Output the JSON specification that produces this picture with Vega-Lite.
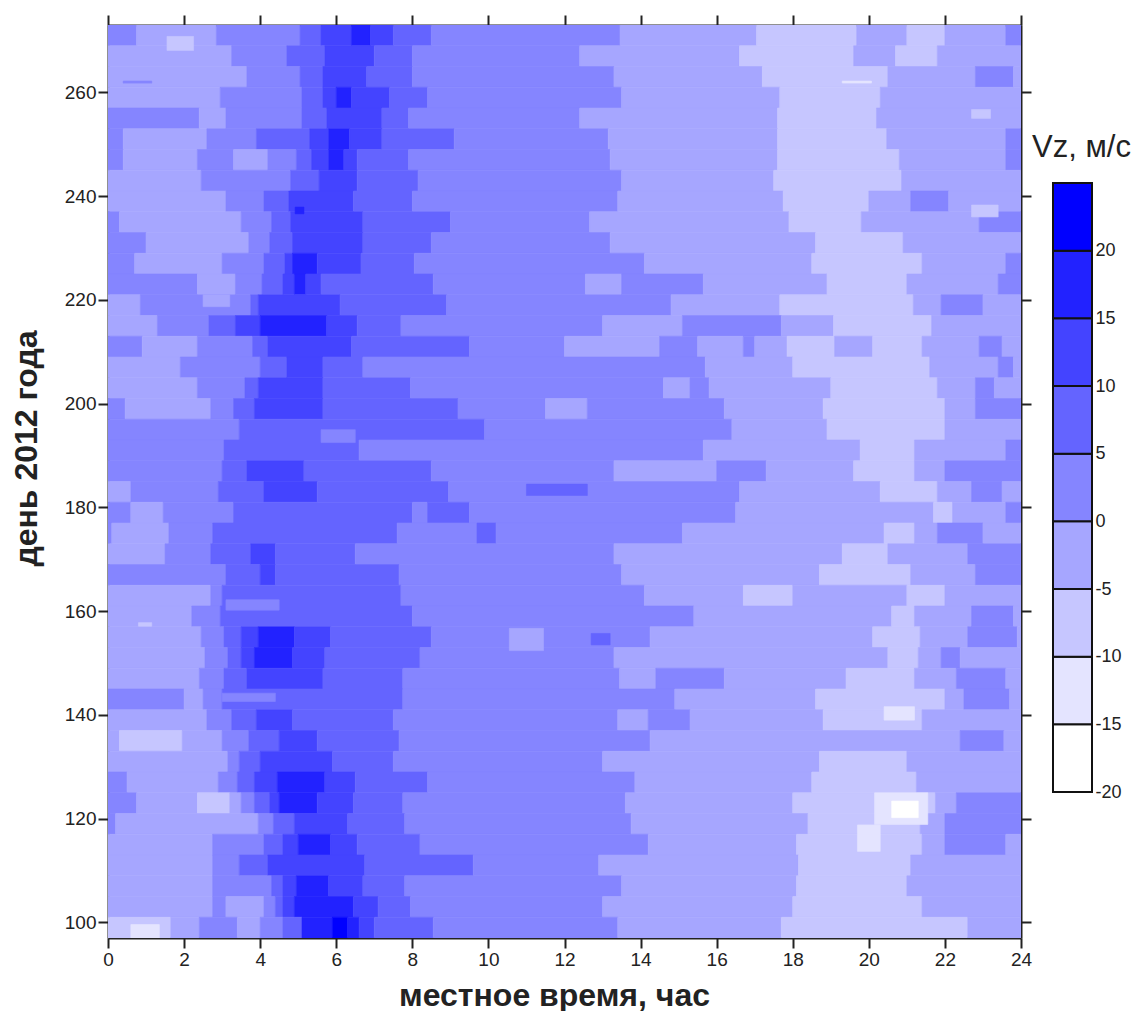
{"$schema":"https://vega.github.io/schema/vega-lite/v6.json","background":"white","padding":{"left":10,"top":14,"right":0,"bottom":0},"config":{"view":{"stroke":null},"font":"Liberation Sans"},"datasets":{"legend":[{"lo":-20,"hi":-15,"v":-17},{"lo":-15,"hi":-10,"v":-12},{"lo":-10,"hi":-5,"v":-7},{"lo":-5,"hi":0,"v":-2},{"lo":0,"hi":5,"v":3},{"lo":5,"hi":10,"v":8},{"lo":10,"hi":15,"v":13},{"lo":15,"hi":20,"v":18},{"lo":20,"hi":25,"v":23}],"cells":[
{"t0":0,"t1":0.75,"d0":269,"d1":273,"v":3},{"t0":0.75,"t1":2.85,"d0":269,"d1":273,"v":-2},{"t0":2.85,"t1":5.05,"d0":269,"d1":273,"v":3},{"t0":5.05,"t1":5.6,"d0":269,"d1":273,"v":8},{"t0":5.6,"t1":6.4,"d0":269,"d1":273,"v":13},{"t0":6.4,"t1":6.9,"d0":269,"d1":273,"v":18},{"t0":6.9,"t1":7.5,"d0":269,"d1":273,"v":13},{"t0":7.5,"t1":8.5,"d0":269,"d1":273,"v":8},{"t0":8.5,"t1":13.46,"d0":269,"d1":273,"v":3},{"t0":13.46,"t1":17.05,"d0":269,"d1":273,"v":-2},{"t0":17.05,"t1":19.68,"d0":269,"d1":273,"v":-7},{"t0":19.68,"t1":21,"d0":269,"d1":273,"v":-2},{"t0":21,"t1":22,"d0":269,"d1":273,"v":-7},{"t0":22,"t1":23.6,"d0":269,"d1":273,"v":-2},{"t0":23.6,"t1":24,"d0":269,"d1":273,"v":3},
{"t0":0,"t1":3.25,"d0":265,"d1":269,"v":-2},{"t0":3.25,"t1":4.7,"d0":265,"d1":269,"v":3},{"t0":4.7,"t1":5.7,"d0":265,"d1":269,"v":8},{"t0":5.7,"t1":7,"d0":265,"d1":269,"v":13},{"t0":7,"t1":8,"d0":265,"d1":269,"v":8},{"t0":8,"t1":12.4,"d0":265,"d1":269,"v":3},{"t0":12.4,"t1":16.6,"d0":265,"d1":269,"v":-2},{"t0":16.6,"t1":19.6,"d0":265,"d1":269,"v":-7},{"t0":19.6,"t1":20.7,"d0":265,"d1":269,"v":-2},{"t0":20.7,"t1":21.8,"d0":265,"d1":269,"v":-7},{"t0":21.8,"t1":24,"d0":265,"d1":269,"v":-2},
{"t0":0,"t1":3.65,"d0":261,"d1":265,"v":-2},{"t0":3.65,"t1":5.05,"d0":261,"d1":265,"v":3},{"t0":5.05,"t1":5.65,"d0":261,"d1":265,"v":8},{"t0":5.65,"t1":6.8,"d0":261,"d1":265,"v":13},{"t0":6.8,"t1":8,"d0":261,"d1":265,"v":8},{"t0":8,"t1":13.3,"d0":261,"d1":265,"v":3},{"t0":13.3,"t1":17.2,"d0":261,"d1":265,"v":-2},{"t0":17.2,"t1":20.5,"d0":261,"d1":265,"v":-7},{"t0":20.5,"t1":22.8,"d0":261,"d1":265,"v":-2},{"t0":22.8,"t1":23.8,"d0":261,"d1":265,"v":3},{"t0":23.8,"t1":24,"d0":261,"d1":265,"v":-2},
{"t0":0,"t1":2.95,"d0":257,"d1":261,"v":-2},{"t0":2.95,"t1":5.1,"d0":257,"d1":261,"v":3},{"t0":5.1,"t1":5.65,"d0":257,"d1":261,"v":8},{"t0":5.65,"t1":6,"d0":257,"d1":261,"v":13},{"t0":6,"t1":6.4,"d0":257,"d1":261,"v":18},{"t0":6.4,"t1":7.4,"d0":257,"d1":261,"v":13},{"t0":7.4,"t1":8.4,"d0":257,"d1":261,"v":8},{"t0":8.4,"t1":13.5,"d0":257,"d1":261,"v":3},{"t0":13.5,"t1":17.66,"d0":257,"d1":261,"v":-2},{"t0":17.66,"t1":20.3,"d0":257,"d1":261,"v":-7},{"t0":20.3,"t1":24,"d0":257,"d1":261,"v":-2},
{"t0":0,"t1":2.4,"d0":253,"d1":257,"v":3},{"t0":2.4,"t1":3.1,"d0":253,"d1":257,"v":-2},{"t0":3.1,"t1":5.1,"d0":253,"d1":257,"v":3},{"t0":5.1,"t1":5.75,"d0":253,"d1":257,"v":8},{"t0":5.75,"t1":7.2,"d0":253,"d1":257,"v":13},{"t0":7.2,"t1":7.9,"d0":253,"d1":257,"v":8},{"t0":7.9,"t1":12.4,"d0":253,"d1":257,"v":3},{"t0":12.4,"t1":17.6,"d0":253,"d1":257,"v":-2},{"t0":17.6,"t1":20.2,"d0":253,"d1":257,"v":-7},{"t0":20.2,"t1":24,"d0":253,"d1":257,"v":-2},
{"t0":0,"t1":0.4,"d0":249,"d1":253,"v":3},{"t0":0.4,"t1":2.6,"d0":249,"d1":253,"v":-2},{"t0":2.6,"t1":3.9,"d0":249,"d1":253,"v":3},{"t0":3.9,"t1":5.3,"d0":249,"d1":253,"v":8},{"t0":5.3,"t1":5.8,"d0":249,"d1":253,"v":13},{"t0":5.8,"t1":6.35,"d0":249,"d1":253,"v":18},{"t0":6.35,"t1":7.2,"d0":249,"d1":253,"v":13},{"t0":7.2,"t1":9.1,"d0":249,"d1":253,"v":8},{"t0":9.1,"t1":13.15,"d0":249,"d1":253,"v":3},{"t0":13.15,"t1":17.6,"d0":249,"d1":253,"v":-2},{"t0":17.6,"t1":20.47,"d0":249,"d1":253,"v":-7},{"t0":20.47,"t1":23.6,"d0":249,"d1":253,"v":-2},{"t0":23.6,"t1":24,"d0":249,"d1":253,"v":3},
{"t0":0,"t1":0.4,"d0":245,"d1":249,"v":3},{"t0":0.4,"t1":2.35,"d0":245,"d1":249,"v":-2},{"t0":2.35,"t1":3.3,"d0":245,"d1":249,"v":3},{"t0":3.3,"t1":4.2,"d0":245,"d1":249,"v":-2},{"t0":4.2,"t1":4.95,"d0":245,"d1":249,"v":3},{"t0":4.95,"t1":5.35,"d0":245,"d1":249,"v":8},{"t0":5.35,"t1":5.8,"d0":245,"d1":249,"v":13},{"t0":5.8,"t1":6.2,"d0":245,"d1":249,"v":18},{"t0":6.2,"t1":6.55,"d0":245,"d1":249,"v":13},{"t0":6.55,"t1":7.9,"d0":245,"d1":249,"v":8},{"t0":7.9,"t1":13.2,"d0":245,"d1":249,"v":3},{"t0":13.2,"t1":17.6,"d0":245,"d1":249,"v":-2},{"t0":17.6,"t1":20.8,"d0":245,"d1":249,"v":-7},{"t0":20.8,"t1":23.6,"d0":245,"d1":249,"v":-2},{"t0":23.6,"t1":24,"d0":245,"d1":249,"v":3},
{"t0":0,"t1":2.45,"d0":241,"d1":245,"v":-2},{"t0":2.45,"t1":4.8,"d0":241,"d1":245,"v":3},{"t0":4.8,"t1":5.55,"d0":241,"d1":245,"v":8},{"t0":5.55,"t1":6.55,"d0":241,"d1":245,"v":13},{"t0":6.55,"t1":8.15,"d0":241,"d1":245,"v":8},{"t0":8.15,"t1":13.5,"d0":241,"d1":245,"v":3},{"t0":13.5,"t1":17.5,"d0":241,"d1":245,"v":-2},{"t0":17.5,"t1":20.86,"d0":241,"d1":245,"v":-7},{"t0":20.86,"t1":24,"d0":241,"d1":245,"v":-2},
{"t0":0,"t1":3.1,"d0":237,"d1":241,"v":-2},{"t0":3.1,"t1":4.1,"d0":237,"d1":241,"v":3},{"t0":4.1,"t1":4.75,"d0":237,"d1":241,"v":8},{"t0":4.75,"t1":6.45,"d0":237,"d1":241,"v":13},{"t0":6.45,"t1":8,"d0":237,"d1":241,"v":8},{"t0":8,"t1":13.4,"d0":237,"d1":241,"v":3},{"t0":13.4,"t1":17.75,"d0":237,"d1":241,"v":-2},{"t0":17.75,"t1":20,"d0":237,"d1":241,"v":-7},{"t0":20,"t1":21.1,"d0":237,"d1":241,"v":-2},{"t0":21.1,"t1":22.1,"d0":237,"d1":241,"v":3},{"t0":22.1,"t1":24,"d0":237,"d1":241,"v":-2},
{"t0":0,"t1":0.3,"d0":233,"d1":237,"v":3},{"t0":0.3,"t1":3.5,"d0":233,"d1":237,"v":-2},{"t0":3.5,"t1":4.3,"d0":233,"d1":237,"v":3},{"t0":4.3,"t1":4.8,"d0":233,"d1":237,"v":8},{"t0":4.8,"t1":6.7,"d0":233,"d1":237,"v":13},{"t0":6.7,"t1":9,"d0":233,"d1":237,"v":8},{"t0":9,"t1":12.66,"d0":233,"d1":237,"v":3},{"t0":12.66,"t1":17.9,"d0":233,"d1":237,"v":-2},{"t0":17.9,"t1":19.8,"d0":233,"d1":237,"v":-7},{"t0":19.8,"t1":22.9,"d0":233,"d1":237,"v":-2},{"t0":22.9,"t1":24,"d0":233,"d1":237,"v":3},
{"t0":0,"t1":1,"d0":229,"d1":233,"v":3},{"t0":1,"t1":3.7,"d0":229,"d1":233,"v":-2},{"t0":3.7,"t1":4.25,"d0":229,"d1":233,"v":3},{"t0":4.25,"t1":4.85,"d0":229,"d1":233,"v":8},{"t0":4.85,"t1":6.7,"d0":229,"d1":233,"v":13},{"t0":6.7,"t1":8.5,"d0":229,"d1":233,"v":8},{"t0":8.5,"t1":13.2,"d0":229,"d1":233,"v":3},{"t0":13.2,"t1":18.6,"d0":229,"d1":233,"v":-2},{"t0":18.6,"t1":20.9,"d0":229,"d1":233,"v":-7},{"t0":20.9,"t1":24,"d0":229,"d1":233,"v":-2},
{"t0":0,"t1":0.7,"d0":225,"d1":229,"v":3},{"t0":0.7,"t1":3,"d0":225,"d1":229,"v":-2},{"t0":3,"t1":4.1,"d0":225,"d1":229,"v":3},{"t0":4.1,"t1":4.65,"d0":225,"d1":229,"v":8},{"t0":4.65,"t1":4.85,"d0":225,"d1":229,"v":13},{"t0":4.85,"t1":5.5,"d0":225,"d1":229,"v":18},{"t0":5.5,"t1":6.65,"d0":225,"d1":229,"v":13},{"t0":6.65,"t1":8.05,"d0":225,"d1":229,"v":8},{"t0":8.05,"t1":14.1,"d0":225,"d1":229,"v":3},{"t0":14.1,"t1":18.5,"d0":225,"d1":229,"v":-2},{"t0":18.5,"t1":21.4,"d0":225,"d1":229,"v":-7},{"t0":21.4,"t1":23.6,"d0":225,"d1":229,"v":-2},{"t0":23.6,"t1":24,"d0":225,"d1":229,"v":3},
{"t0":0,"t1":2.35,"d0":221,"d1":225,"v":3},{"t0":2.35,"t1":3.35,"d0":221,"d1":225,"v":-2},{"t0":3.35,"t1":4.05,"d0":221,"d1":225,"v":3},{"t0":4.05,"t1":4.6,"d0":221,"d1":225,"v":8},{"t0":4.6,"t1":4.9,"d0":221,"d1":225,"v":13},{"t0":4.9,"t1":5.2,"d0":221,"d1":225,"v":18},{"t0":5.2,"t1":5.6,"d0":221,"d1":225,"v":13},{"t0":5.6,"t1":8.55,"d0":221,"d1":225,"v":8},{"t0":8.55,"t1":12.55,"d0":221,"d1":225,"v":3},{"t0":12.55,"t1":13.5,"d0":221,"d1":225,"v":-2},{"t0":13.5,"t1":15.65,"d0":221,"d1":225,"v":3},{"t0":15.65,"t1":18.9,"d0":221,"d1":225,"v":-2},{"t0":18.9,"t1":21,"d0":221,"d1":225,"v":-7},{"t0":21,"t1":23.4,"d0":221,"d1":225,"v":-2},{"t0":23.4,"t1":24,"d0":221,"d1":225,"v":3},
{"t0":0,"t1":0.85,"d0":217,"d1":221,"v":-2},{"t0":0.85,"t1":3.75,"d0":217,"d1":221,"v":3},{"t0":3.75,"t1":3.95,"d0":217,"d1":221,"v":8},{"t0":3.95,"t1":6.1,"d0":217,"d1":221,"v":13},{"t0":6.1,"t1":8.9,"d0":217,"d1":221,"v":8},{"t0":8.9,"t1":14.8,"d0":217,"d1":221,"v":3},{"t0":14.8,"t1":17.66,"d0":217,"d1":221,"v":-2},{"t0":17.66,"t1":21.17,"d0":217,"d1":221,"v":-7},{"t0":21.17,"t1":21.9,"d0":217,"d1":221,"v":-2},{"t0":21.9,"t1":23,"d0":217,"d1":221,"v":3},{"t0":23,"t1":24,"d0":217,"d1":221,"v":-2},
{"t0":0,"t1":1.3,"d0":213,"d1":217,"v":-2},{"t0":1.3,"t1":2.65,"d0":213,"d1":217,"v":3},{"t0":2.65,"t1":3.35,"d0":213,"d1":217,"v":8},{"t0":3.35,"t1":4,"d0":213,"d1":217,"v":13},{"t0":4,"t1":5.75,"d0":213,"d1":217,"v":18},{"t0":5.75,"t1":6.55,"d0":213,"d1":217,"v":13},{"t0":6.55,"t1":7.7,"d0":213,"d1":217,"v":8},{"t0":7.7,"t1":13,"d0":213,"d1":217,"v":3},{"t0":13,"t1":15.1,"d0":213,"d1":217,"v":-2},{"t0":15.1,"t1":17.7,"d0":213,"d1":217,"v":3},{"t0":17.7,"t1":19.07,"d0":213,"d1":217,"v":-2},{"t0":19.07,"t1":21.65,"d0":213,"d1":217,"v":-7},{"t0":21.65,"t1":24,"d0":213,"d1":217,"v":-2},
{"t0":0,"t1":0.9,"d0":209,"d1":213,"v":3},{"t0":0.9,"t1":2.35,"d0":209,"d1":213,"v":-2},{"t0":2.35,"t1":3.8,"d0":209,"d1":213,"v":3},{"t0":3.8,"t1":4.2,"d0":209,"d1":213,"v":8},{"t0":4.2,"t1":6.4,"d0":209,"d1":213,"v":13},{"t0":6.4,"t1":9.5,"d0":209,"d1":213,"v":8},{"t0":9.5,"t1":12,"d0":209,"d1":213,"v":3},{"t0":12,"t1":14.5,"d0":209,"d1":213,"v":-2},{"t0":14.5,"t1":15.5,"d0":209,"d1":213,"v":3},{"t0":15.5,"t1":16.7,"d0":209,"d1":213,"v":-2},{"t0":16.7,"t1":17,"d0":209,"d1":213,"v":3},{"t0":17,"t1":17.85,"d0":209,"d1":213,"v":-2},{"t0":17.85,"t1":19.1,"d0":209,"d1":213,"v":-7},{"t0":19.1,"t1":20.1,"d0":209,"d1":213,"v":-2},{"t0":20.1,"t1":21.4,"d0":209,"d1":213,"v":-7},{"t0":21.4,"t1":22.9,"d0":209,"d1":213,"v":-2},{"t0":22.9,"t1":23.5,"d0":209,"d1":213,"v":3},{"t0":23.5,"t1":24,"d0":209,"d1":213,"v":-2},
{"t0":0,"t1":1.9,"d0":205,"d1":209,"v":-2},{"t0":1.9,"t1":4,"d0":205,"d1":209,"v":3},{"t0":4,"t1":4.7,"d0":205,"d1":209,"v":8},{"t0":4.7,"t1":5.65,"d0":205,"d1":209,"v":13},{"t0":5.65,"t1":6.7,"d0":205,"d1":209,"v":8},{"t0":6.7,"t1":15.7,"d0":205,"d1":209,"v":3},{"t0":15.7,"t1":18,"d0":205,"d1":209,"v":-2},{"t0":18,"t1":21.6,"d0":205,"d1":209,"v":-7},{"t0":21.6,"t1":23.4,"d0":205,"d1":209,"v":-2},{"t0":23.4,"t1":23.8,"d0":205,"d1":209,"v":3},{"t0":23.8,"t1":24,"d0":205,"d1":209,"v":-2},
{"t0":0,"t1":2.35,"d0":201,"d1":205,"v":-2},{"t0":2.35,"t1":3.6,"d0":201,"d1":205,"v":3},{"t0":3.6,"t1":3.95,"d0":201,"d1":205,"v":8},{"t0":3.95,"t1":5.65,"d0":201,"d1":205,"v":13},{"t0":5.65,"t1":7.95,"d0":201,"d1":205,"v":8},{"t0":7.95,"t1":14.6,"d0":201,"d1":205,"v":3},{"t0":14.6,"t1":15.3,"d0":201,"d1":205,"v":-2},{"t0":15.3,"t1":15.8,"d0":201,"d1":205,"v":3},{"t0":15.8,"t1":19,"d0":201,"d1":205,"v":-2},{"t0":19,"t1":21.8,"d0":201,"d1":205,"v":-7},{"t0":21.8,"t1":22.8,"d0":201,"d1":205,"v":-2},{"t0":22.8,"t1":23.3,"d0":201,"d1":205,"v":3},{"t0":23.3,"t1":24,"d0":201,"d1":205,"v":-2},
{"t0":0,"t1":0.45,"d0":197,"d1":201,"v":3},{"t0":0.45,"t1":2.7,"d0":197,"d1":201,"v":-2},{"t0":2.7,"t1":3.3,"d0":197,"d1":201,"v":3},{"t0":3.3,"t1":3.85,"d0":197,"d1":201,"v":8},{"t0":3.85,"t1":5.65,"d0":197,"d1":201,"v":13},{"t0":5.65,"t1":9.2,"d0":197,"d1":201,"v":8},{"t0":9.2,"t1":11.5,"d0":197,"d1":201,"v":3},{"t0":11.5,"t1":12.6,"d0":197,"d1":201,"v":-2},{"t0":12.6,"t1":16.2,"d0":197,"d1":201,"v":3},{"t0":16.2,"t1":18.8,"d0":197,"d1":201,"v":-2},{"t0":18.8,"t1":22,"d0":197,"d1":201,"v":-7},{"t0":22,"t1":22.8,"d0":197,"d1":201,"v":-2},{"t0":22.8,"t1":24,"d0":197,"d1":201,"v":3},
{"t0":0,"t1":3.45,"d0":193,"d1":197,"v":3},{"t0":3.45,"t1":9.9,"d0":193,"d1":197,"v":8},{"t0":9.9,"t1":16.4,"d0":193,"d1":197,"v":3},{"t0":16.4,"t1":18.9,"d0":193,"d1":197,"v":-2},{"t0":18.9,"t1":22,"d0":193,"d1":197,"v":-7},{"t0":22,"t1":24,"d0":193,"d1":197,"v":-2},
{"t0":0,"t1":3.05,"d0":189,"d1":193,"v":3},{"t0":3.05,"t1":6.6,"d0":189,"d1":193,"v":8},{"t0":6.6,"t1":15.65,"d0":189,"d1":193,"v":3},{"t0":15.65,"t1":19.77,"d0":189,"d1":193,"v":-2},{"t0":19.77,"t1":21.2,"d0":189,"d1":193,"v":-7},{"t0":21.2,"t1":23.6,"d0":189,"d1":193,"v":-2},{"t0":23.6,"t1":24,"d0":189,"d1":193,"v":3},
{"t0":0,"t1":3,"d0":185,"d1":189,"v":3},{"t0":3,"t1":3.65,"d0":185,"d1":189,"v":8},{"t0":3.65,"t1":5.15,"d0":185,"d1":189,"v":13},{"t0":5.15,"t1":8.5,"d0":185,"d1":189,"v":8},{"t0":8.5,"t1":13.3,"d0":185,"d1":189,"v":3},{"t0":13.3,"t1":16,"d0":185,"d1":189,"v":-2},{"t0":16,"t1":17.3,"d0":185,"d1":189,"v":3},{"t0":17.3,"t1":19.6,"d0":185,"d1":189,"v":-2},{"t0":19.6,"t1":21.2,"d0":185,"d1":189,"v":-7},{"t0":21.2,"t1":22,"d0":185,"d1":189,"v":-2},{"t0":22,"t1":24,"d0":185,"d1":189,"v":3},
{"t0":0,"t1":0.6,"d0":181,"d1":185,"v":-2},{"t0":0.6,"t1":2.9,"d0":181,"d1":185,"v":3},{"t0":2.9,"t1":4.1,"d0":181,"d1":185,"v":8},{"t0":4.1,"t1":5.5,"d0":181,"d1":185,"v":13},{"t0":5.5,"t1":8.95,"d0":181,"d1":185,"v":8},{"t0":8.95,"t1":16.6,"d0":181,"d1":185,"v":3},{"t0":16.6,"t1":20.3,"d0":181,"d1":185,"v":-2},{"t0":20.3,"t1":21.8,"d0":181,"d1":185,"v":-7},{"t0":21.8,"t1":22.7,"d0":181,"d1":185,"v":-2},{"t0":22.7,"t1":23.5,"d0":181,"d1":185,"v":3},{"t0":23.5,"t1":24,"d0":181,"d1":185,"v":-2},
{"t0":0,"t1":0.6,"d0":177,"d1":181,"v":3},{"t0":0.6,"t1":1.45,"d0":177,"d1":181,"v":-2},{"t0":1.45,"t1":3.3,"d0":177,"d1":181,"v":3},{"t0":3.3,"t1":8,"d0":177,"d1":181,"v":8},{"t0":8,"t1":8.4,"d0":177,"d1":181,"v":3},{"t0":8.4,"t1":9.5,"d0":177,"d1":181,"v":8},{"t0":9.5,"t1":16.5,"d0":177,"d1":181,"v":3},{"t0":16.5,"t1":21.7,"d0":177,"d1":181,"v":-2},{"t0":21.7,"t1":22.2,"d0":177,"d1":181,"v":-7},{"t0":22.2,"t1":23.6,"d0":177,"d1":181,"v":-2},{"t0":23.6,"t1":24,"d0":177,"d1":181,"v":3},
{"t0":0,"t1":0.1,"d0":173,"d1":177,"v":3},{"t0":0.1,"t1":1.6,"d0":173,"d1":177,"v":-2},{"t0":1.6,"t1":2.75,"d0":173,"d1":177,"v":3},{"t0":2.75,"t1":7.6,"d0":173,"d1":177,"v":8},{"t0":7.6,"t1":9.7,"d0":173,"d1":177,"v":3},{"t0":9.7,"t1":10.2,"d0":173,"d1":177,"v":8},{"t0":10.2,"t1":15.1,"d0":173,"d1":177,"v":3},{"t0":15.1,"t1":20.4,"d0":173,"d1":177,"v":-2},{"t0":20.4,"t1":21.2,"d0":173,"d1":177,"v":-7},{"t0":21.2,"t1":21.8,"d0":173,"d1":177,"v":-2},{"t0":21.8,"t1":23,"d0":173,"d1":177,"v":3},{"t0":23,"t1":24,"d0":173,"d1":177,"v":-2},
{"t0":0,"t1":1.5,"d0":169,"d1":173,"v":-2},{"t0":1.5,"t1":2.7,"d0":169,"d1":173,"v":3},{"t0":2.7,"t1":3.75,"d0":169,"d1":173,"v":8},{"t0":3.75,"t1":4.4,"d0":169,"d1":173,"v":13},{"t0":4.4,"t1":6.5,"d0":169,"d1":173,"v":8},{"t0":6.5,"t1":13.3,"d0":169,"d1":173,"v":3},{"t0":13.3,"t1":19.3,"d0":169,"d1":173,"v":-2},{"t0":19.3,"t1":20.5,"d0":169,"d1":173,"v":-7},{"t0":20.5,"t1":22.6,"d0":169,"d1":173,"v":-2},{"t0":22.6,"t1":24,"d0":169,"d1":173,"v":3},
{"t0":0,"t1":3.1,"d0":165,"d1":169,"v":3},{"t0":3.1,"t1":4,"d0":165,"d1":169,"v":8},{"t0":4,"t1":4.4,"d0":165,"d1":169,"v":13},{"t0":4.4,"t1":7.65,"d0":165,"d1":169,"v":8},{"t0":7.65,"t1":13.5,"d0":165,"d1":169,"v":3},{"t0":13.5,"t1":18.7,"d0":165,"d1":169,"v":-2},{"t0":18.7,"t1":21.1,"d0":165,"d1":169,"v":-7},{"t0":21.1,"t1":22.8,"d0":165,"d1":169,"v":-2},{"t0":22.8,"t1":24,"d0":165,"d1":169,"v":3},
{"t0":0,"t1":2.7,"d0":161,"d1":165,"v":-2},{"t0":2.7,"t1":3,"d0":161,"d1":165,"v":3},{"t0":3,"t1":7.7,"d0":161,"d1":165,"v":8},{"t0":7.7,"t1":14.1,"d0":161,"d1":165,"v":3},{"t0":14.1,"t1":16.7,"d0":161,"d1":165,"v":-2},{"t0":16.7,"t1":18,"d0":161,"d1":165,"v":-7},{"t0":18,"t1":21,"d0":161,"d1":165,"v":-2},{"t0":21,"t1":22,"d0":161,"d1":165,"v":-7},{"t0":22,"t1":24,"d0":161,"d1":165,"v":-2},
{"t0":0,"t1":2.2,"d0":157,"d1":161,"v":-2},{"t0":2.2,"t1":2.95,"d0":157,"d1":161,"v":3},{"t0":2.95,"t1":8,"d0":157,"d1":161,"v":8},{"t0":8,"t1":15.4,"d0":157,"d1":161,"v":3},{"t0":15.4,"t1":20.6,"d0":157,"d1":161,"v":-2},{"t0":20.6,"t1":21.2,"d0":157,"d1":161,"v":-7},{"t0":21.2,"t1":22.7,"d0":157,"d1":161,"v":-2},{"t0":22.7,"t1":23.8,"d0":157,"d1":161,"v":3},{"t0":23.8,"t1":24,"d0":157,"d1":161,"v":-2},
{"t0":0,"t1":2.45,"d0":153,"d1":157,"v":-2},{"t0":2.45,"t1":3.05,"d0":153,"d1":157,"v":3},{"t0":3.05,"t1":3.5,"d0":153,"d1":157,"v":8},{"t0":3.5,"t1":3.95,"d0":153,"d1":157,"v":13},{"t0":3.95,"t1":4.9,"d0":153,"d1":157,"v":18},{"t0":4.9,"t1":5.85,"d0":153,"d1":157,"v":13},{"t0":5.85,"t1":8.5,"d0":153,"d1":157,"v":8},{"t0":8.5,"t1":14.25,"d0":153,"d1":157,"v":3},{"t0":14.25,"t1":20.1,"d0":153,"d1":157,"v":-2},{"t0":20.1,"t1":21.35,"d0":153,"d1":157,"v":-7},{"t0":21.35,"t1":22.6,"d0":153,"d1":157,"v":-2},{"t0":22.6,"t1":23.9,"d0":153,"d1":157,"v":3},{"t0":23.9,"t1":24,"d0":153,"d1":157,"v":-2},
{"t0":0,"t1":2.55,"d0":149,"d1":153,"v":-2},{"t0":2.55,"t1":3.15,"d0":149,"d1":153,"v":3},{"t0":3.15,"t1":3.5,"d0":149,"d1":153,"v":8},{"t0":3.5,"t1":3.85,"d0":149,"d1":153,"v":13},{"t0":3.85,"t1":4.85,"d0":149,"d1":153,"v":18},{"t0":4.85,"t1":5.7,"d0":149,"d1":153,"v":13},{"t0":5.7,"t1":8.2,"d0":149,"d1":153,"v":8},{"t0":8.2,"t1":13.3,"d0":149,"d1":153,"v":3},{"t0":13.3,"t1":20.5,"d0":149,"d1":153,"v":-2},{"t0":20.5,"t1":21.3,"d0":149,"d1":153,"v":-7},{"t0":21.3,"t1":21.9,"d0":149,"d1":153,"v":-2},{"t0":21.9,"t1":22.4,"d0":149,"d1":153,"v":3},{"t0":22.4,"t1":24,"d0":149,"d1":153,"v":-2},
{"t0":0,"t1":2.4,"d0":145,"d1":149,"v":-2},{"t0":2.4,"t1":3.05,"d0":145,"d1":149,"v":3},{"t0":3.05,"t1":3.65,"d0":145,"d1":149,"v":8},{"t0":3.65,"t1":5.65,"d0":145,"d1":149,"v":13},{"t0":5.65,"t1":7.75,"d0":145,"d1":149,"v":8},{"t0":7.75,"t1":13.45,"d0":145,"d1":149,"v":3},{"t0":13.45,"t1":14.4,"d0":145,"d1":149,"v":-2},{"t0":14.4,"t1":16.2,"d0":145,"d1":149,"v":3},{"t0":16.2,"t1":19.4,"d0":145,"d1":149,"v":-2},{"t0":19.4,"t1":21.2,"d0":145,"d1":149,"v":-7},{"t0":21.2,"t1":22.3,"d0":145,"d1":149,"v":-2},{"t0":22.3,"t1":23.6,"d0":145,"d1":149,"v":3},{"t0":23.6,"t1":24,"d0":145,"d1":149,"v":-2},
{"t0":0,"t1":2,"d0":141,"d1":145,"v":3},{"t0":2,"t1":2.5,"d0":141,"d1":145,"v":-2},{"t0":2.5,"t1":3,"d0":141,"d1":145,"v":3},{"t0":3,"t1":7.75,"d0":141,"d1":145,"v":8},{"t0":7.75,"t1":14.9,"d0":141,"d1":145,"v":3},{"t0":14.9,"t1":18.6,"d0":141,"d1":145,"v":-2},{"t0":18.6,"t1":22,"d0":141,"d1":145,"v":-7},{"t0":22,"t1":22.5,"d0":141,"d1":145,"v":-2},{"t0":22.5,"t1":23.7,"d0":141,"d1":145,"v":3},{"t0":23.7,"t1":24,"d0":141,"d1":145,"v":-2},
{"t0":0,"t1":2.6,"d0":137,"d1":141,"v":-2},{"t0":2.6,"t1":3.25,"d0":137,"d1":141,"v":3},{"t0":3.25,"t1":3.9,"d0":137,"d1":141,"v":8},{"t0":3.9,"t1":4.85,"d0":137,"d1":141,"v":13},{"t0":4.85,"t1":7.5,"d0":137,"d1":141,"v":8},{"t0":7.5,"t1":13.4,"d0":137,"d1":141,"v":3},{"t0":13.4,"t1":14.2,"d0":137,"d1":141,"v":-2},{"t0":14.2,"t1":15.3,"d0":137,"d1":141,"v":3},{"t0":15.3,"t1":18.8,"d0":137,"d1":141,"v":-2},{"t0":18.8,"t1":21.4,"d0":137,"d1":141,"v":-7},{"t0":21.4,"t1":24,"d0":137,"d1":141,"v":-2},
{"t0":0,"t1":0.3,"d0":133,"d1":137,"v":-2},{"t0":0.3,"t1":1.95,"d0":133,"d1":137,"v":-7},{"t0":1.95,"t1":3,"d0":133,"d1":137,"v":-2},{"t0":3,"t1":3.7,"d0":133,"d1":137,"v":3},{"t0":3.7,"t1":4.5,"d0":133,"d1":137,"v":8},{"t0":4.5,"t1":5.5,"d0":133,"d1":137,"v":13},{"t0":5.5,"t1":7.65,"d0":133,"d1":137,"v":8},{"t0":7.65,"t1":14.25,"d0":133,"d1":137,"v":3},{"t0":14.25,"t1":22.4,"d0":133,"d1":137,"v":-2},{"t0":22.4,"t1":23.55,"d0":133,"d1":137,"v":3},{"t0":23.55,"t1":24,"d0":133,"d1":137,"v":-2},
{"t0":0,"t1":3.15,"d0":129,"d1":133,"v":-2},{"t0":3.15,"t1":3.45,"d0":129,"d1":133,"v":3},{"t0":3.45,"t1":4,"d0":129,"d1":133,"v":8},{"t0":4,"t1":5.9,"d0":129,"d1":133,"v":13},{"t0":5.9,"t1":7.5,"d0":129,"d1":133,"v":8},{"t0":7.5,"t1":13,"d0":129,"d1":133,"v":3},{"t0":13,"t1":18.7,"d0":129,"d1":133,"v":-2},{"t0":18.7,"t1":21,"d0":129,"d1":133,"v":-7},{"t0":21,"t1":24,"d0":129,"d1":133,"v":-2},
{"t0":0,"t1":0.5,"d0":125,"d1":129,"v":3},{"t0":0.5,"t1":2.9,"d0":125,"d1":129,"v":-2},{"t0":2.9,"t1":3.4,"d0":125,"d1":129,"v":3},{"t0":3.4,"t1":3.85,"d0":125,"d1":129,"v":8},{"t0":3.85,"t1":4.45,"d0":125,"d1":129,"v":13},{"t0":4.45,"t1":5.7,"d0":125,"d1":129,"v":18},{"t0":5.7,"t1":6.5,"d0":125,"d1":129,"v":13},{"t0":6.5,"t1":8.4,"d0":125,"d1":129,"v":8},{"t0":8.4,"t1":13.85,"d0":125,"d1":129,"v":3},{"t0":13.85,"t1":18.5,"d0":125,"d1":129,"v":-2},{"t0":18.5,"t1":21.25,"d0":125,"d1":129,"v":-7},{"t0":21.25,"t1":24,"d0":125,"d1":129,"v":-2},
{"t0":0,"t1":0.75,"d0":121,"d1":125,"v":3},{"t0":0.75,"t1":2.35,"d0":121,"d1":125,"v":-2},{"t0":2.35,"t1":3.2,"d0":121,"d1":125,"v":-7},{"t0":3.2,"t1":3.5,"d0":121,"d1":125,"v":-2},{"t0":3.5,"t1":3.85,"d0":121,"d1":125,"v":3},{"t0":3.85,"t1":4.25,"d0":121,"d1":125,"v":8},{"t0":4.25,"t1":4.5,"d0":121,"d1":125,"v":13},{"t0":4.5,"t1":5.5,"d0":121,"d1":125,"v":18},{"t0":5.5,"t1":6.45,"d0":121,"d1":125,"v":13},{"t0":6.45,"t1":7.75,"d0":121,"d1":125,"v":8},{"t0":7.75,"t1":13.6,"d0":121,"d1":125,"v":3},{"t0":13.6,"t1":18,"d0":121,"d1":125,"v":-2},{"t0":18,"t1":21.75,"d0":121,"d1":125,"v":-7},{"t0":21.75,"t1":22.3,"d0":121,"d1":125,"v":-2},{"t0":22.3,"t1":24,"d0":121,"d1":125,"v":3},
{"t0":0,"t1":0.2,"d0":117,"d1":121,"v":3},{"t0":0.2,"t1":3.95,"d0":117,"d1":121,"v":-2},{"t0":3.95,"t1":4.35,"d0":117,"d1":121,"v":3},{"t0":4.35,"t1":4.9,"d0":117,"d1":121,"v":8},{"t0":4.9,"t1":6.3,"d0":117,"d1":121,"v":13},{"t0":6.3,"t1":7.8,"d0":117,"d1":121,"v":8},{"t0":7.8,"t1":13.75,"d0":117,"d1":121,"v":3},{"t0":13.75,"t1":18.4,"d0":117,"d1":121,"v":-2},{"t0":18.4,"t1":21.35,"d0":117,"d1":121,"v":-7},{"t0":21.35,"t1":22,"d0":117,"d1":121,"v":-2},{"t0":22,"t1":24,"d0":117,"d1":121,"v":3},
{"t0":0,"t1":2.75,"d0":113,"d1":117,"v":-2},{"t0":2.75,"t1":4.1,"d0":113,"d1":117,"v":3},{"t0":4.1,"t1":4.6,"d0":113,"d1":117,"v":8},{"t0":4.6,"t1":5,"d0":113,"d1":117,"v":13},{"t0":5,"t1":5.85,"d0":113,"d1":117,"v":18},{"t0":5.85,"t1":6.55,"d0":113,"d1":117,"v":13},{"t0":6.55,"t1":8.2,"d0":113,"d1":117,"v":8},{"t0":8.2,"t1":14.2,"d0":113,"d1":117,"v":3},{"t0":14.2,"t1":18.1,"d0":113,"d1":117,"v":-2},{"t0":18.1,"t1":21.4,"d0":113,"d1":117,"v":-7},{"t0":21.4,"t1":22,"d0":113,"d1":117,"v":-2},{"t0":22,"t1":23.6,"d0":113,"d1":117,"v":3},{"t0":23.6,"t1":24,"d0":113,"d1":117,"v":-2},
{"t0":0,"t1":2.75,"d0":109,"d1":113,"v":-2},{"t0":2.75,"t1":3.45,"d0":109,"d1":113,"v":3},{"t0":3.45,"t1":4.2,"d0":109,"d1":113,"v":8},{"t0":4.2,"t1":6.75,"d0":109,"d1":113,"v":13},{"t0":6.75,"t1":9.6,"d0":109,"d1":113,"v":8},{"t0":9.6,"t1":12.9,"d0":109,"d1":113,"v":3},{"t0":12.9,"t1":18.15,"d0":109,"d1":113,"v":-2},{"t0":18.15,"t1":21.1,"d0":109,"d1":113,"v":-7},{"t0":21.1,"t1":24,"d0":109,"d1":113,"v":-2},
{"t0":0,"t1":2.75,"d0":105,"d1":109,"v":-2},{"t0":2.75,"t1":4.3,"d0":105,"d1":109,"v":3},{"t0":4.3,"t1":4.6,"d0":105,"d1":109,"v":8},{"t0":4.6,"t1":4.95,"d0":105,"d1":109,"v":13},{"t0":4.95,"t1":5.8,"d0":105,"d1":109,"v":18},{"t0":5.8,"t1":6.7,"d0":105,"d1":109,"v":13},{"t0":6.7,"t1":7.8,"d0":105,"d1":109,"v":8},{"t0":7.8,"t1":13.5,"d0":105,"d1":109,"v":3},{"t0":13.5,"t1":18.1,"d0":105,"d1":109,"v":-2},{"t0":18.1,"t1":21,"d0":105,"d1":109,"v":-7},{"t0":21,"t1":24,"d0":105,"d1":109,"v":-2},
{"t0":0,"t1":2.75,"d0":101,"d1":105,"v":-2},{"t0":2.75,"t1":3.1,"d0":101,"d1":105,"v":3},{"t0":3.1,"t1":4.1,"d0":101,"d1":105,"v":-2},{"t0":4.1,"t1":4.4,"d0":101,"d1":105,"v":3},{"t0":4.4,"t1":4.6,"d0":101,"d1":105,"v":8},{"t0":4.6,"t1":4.9,"d0":101,"d1":105,"v":13},{"t0":4.9,"t1":6.45,"d0":101,"d1":105,"v":18},{"t0":6.45,"t1":7.1,"d0":101,"d1":105,"v":13},{"t0":7.1,"t1":7.95,"d0":101,"d1":105,"v":8},{"t0":7.95,"t1":13,"d0":101,"d1":105,"v":3},{"t0":13,"t1":18,"d0":101,"d1":105,"v":-2},{"t0":18,"t1":21.4,"d0":101,"d1":105,"v":-7},{"t0":21.4,"t1":24,"d0":101,"d1":105,"v":-2},
{"t0":0,"t1":1.65,"d0":97,"d1":101,"v":-7},{"t0":1.65,"t1":2.4,"d0":97,"d1":101,"v":-2},{"t0":2.4,"t1":3.4,"d0":97,"d1":101,"v":3},{"t0":3.4,"t1":4,"d0":97,"d1":101,"v":-2},{"t0":4,"t1":4.6,"d0":97,"d1":101,"v":3},{"t0":4.6,"t1":5.1,"d0":97,"d1":101,"v":8},{"t0":5.1,"t1":5.9,"d0":97,"d1":101,"v":18},{"t0":5.9,"t1":6.3,"d0":97,"d1":101,"v":23},{"t0":6.3,"t1":6.6,"d0":97,"d1":101,"v":18},{"t0":6.6,"t1":7,"d0":97,"d1":101,"v":13},{"t0":7,"t1":8.55,"d0":97,"d1":101,"v":8},{"t0":8.55,"t1":13.4,"d0":97,"d1":101,"v":3},{"t0":13.4,"t1":17.7,"d0":97,"d1":101,"v":-2},{"t0":17.7,"t1":22.6,"d0":97,"d1":101,"v":-7},{"t0":22.6,"t1":24,"d0":97,"d1":101,"v":-2},
{"t0":1.55,"t1":2.25,"d0":268.1,"d1":270.8,"v":-7},{"t0":22.7,"t1":23.2,"d0":255,"d1":256.7,"v":-7},{"t0":22.7,"t1":23.4,"d0":236,"d1":238.3,"v":-7},{"t0":11,"t1":12.6,"d0":182.3,"d1":184.5,"v":8},{"t0":3.1,"t1":4.5,"d0":160.2,"d1":162.2,"v":3},{"t0":10.55,"t1":11.45,"d0":152.4,"d1":156.7,"v":-2},{"t0":12.7,"t1":13.2,"d0":153.5,"d1":155.7,"v":8},{"t0":3,"t1":4.4,"d0":142.6,"d1":144.2,"v":3},{"t0":20.4,"t1":21.2,"d0":139,"d1":141.6,"v":-12},{"t0":20.15,"t1":21.55,"d0":118.9,"d1":125,"v":-12},{"t0":20.6,"t1":21.3,"d0":120.2,"d1":123.4,"v":-17},{"t0":19.7,"t1":20.3,"d0":113.7,"d1":118.8,"v":-12},{"t0":5.6,"t1":6.5,"d0":192.5,"d1":195,"v":3},{"t0":0.6,"t1":1.35,"d0":97,"d1":99.6,"v":-12},{"t0":0.4,"t1":1.15,"d0":261.8,"d1":262.2,"v":3},{"t0":19.3,"t1":20.07,"d0":261.8,"d1":262.2,"v":-12},{"t0":0.8,"t1":1.15,"d0":157.1,"d1":157.8,"v":-7},{"t0":4.92,"t1":5.15,"d0":236.6,"d1":237.9,"v":18},{"t0":2.5,"t1":3.2,"d0":218.7,"d1":221,"v":-2}
]},"hconcat":[{"width":913,"height":913,"layer":[{"data":{"name":"cells"},"mark":{"type":"rect","strokeWidth":0.6,"clip":true},"encoding":{"x":{"field":"t0","type":"quantitative","scale":{"domain":[0,24],"nice":false,"zero":false},"axis":{"values":[0,2,4,6,8,10,12,14,16,18,20,22,24],"title":"местное время, час","titleFontSize":32,"titleFontWeight":"bold","titleColor":"#222","titlePadding":11,"titleX":446,"labelFontSize":19,"labelColor":"#222","labelFlush":false,"labelOverlap":false,"grid":false,"tickSize":10,"tickWidth":2,"tickColor":"#222","domainWidth":2,"domainColor":"#222"}},"x2":{"field":"t1"},"y":{"field":"d0","type":"quantitative","scale":{"domain":[97,273],"nice":false,"zero":false},"axis":{"values":[100,120,140,160,180,200,220,240,260],"title":"день 2012 года","titleFontSize":32,"titleFontWeight":"bold","titleColor":"#222","titlePadding":21,"titleY":423,"labelFontSize":19,"labelColor":"#222","labelOverlap":false,"grid":false,"tickSize":10,"tickWidth":2,"tickColor":"#222","domainWidth":2,"domainColor":"#222"}},"y2":{"field":"d1"},"color":{"field":"v","type":"quantitative","scale":{"type":"threshold","domain":[-15,-10,-5,0,5,10,15,20],"range":["#FFFFFF","#E4E4FF","#C6C6FF","#A6A6FF","#8585FF","#6464FF","#4444FF","#2222FF","#0000FF"]},"legend":null},"stroke":{"field":"v","type":"quantitative","scale":{"type":"threshold","domain":[-15,-10,-5,0,5,10,15,20],"range":["#FFFFFF","#E4E4FF","#C6C6FF","#A6A6FF","#8585FF","#6464FF","#4444FF","#2222FF","#0000FF"]},"legend":null}}},{"data":{"values":[{"t0":0,"d0":97}]},"mark":{"type":"point","opacity":0},"encoding":{"x":{"field":"t0","type":"quantitative","axis":{"orient":"top","values":[0,2,4,6,8,10,12,14,16,18,20,22,24],"labels":false,"title":null,"grid":false,"tickSize":10,"tickWidth":2,"tickColor":"#222","domainWidth":2,"domainColor":"#222"}},"y":{"field":"d0","type":"quantitative","axis":{"orient":"right","values":[100,120,140,160,180,200,220,240,260],"labels":false,"title":null,"grid":false,"tickSize":10,"tickWidth":2,"tickColor":"#222","domainWidth":2,"domainColor":"#222"}}}}],"resolve":{"axis":{"x":"independent","y":"independent"}}},{"width":39,"height":767,"layer":[{"data":{"name":"legend"},"mark":{"type":"rect","stroke":"#111","strokeWidth":2},"encoding":{"x":{"datum":0,"type":"quantitative","scale":{"domain":[0,1],"nice":false},"axis":null},"x2":{"datum":1},"y":{"field":"lo","type":"quantitative","scale":{"domain":[-20,25],"range":[767,158],"nice":false,"zero":false},"axis":{"orient":"right","values":[-20,-15,-10,-5,0,5,10,15,20],"title":null,"domain":false,"ticks":false,"grid":false,"labelFontSize":18,"labelColor":"#222","labelPadding":3,"labelOverlap":false,"labelExpr":"replace(datum.label,'−','-')"}},"y2":{"field":"hi"},"fill":{"field":"v","type":"quantitative","scale":{"type":"threshold","domain":[-15,-10,-5,0,5,10,15,20],"range":["#FFFFFF","#E4E4FF","#C6C6FF","#A6A6FF","#8585FF","#6464FF","#4444FF","#2222FF","#0000FF"]},"legend":null}}},{"data":{"values":[{"label":"Vz, м/с","px":0.73,"py":27.6}]},"mark":{"type":"text","fontSize":31,"color":"#222","align":"center","baseline":"middle"},"encoding":{"x":{"field":"px","type":"quantitative"},"y":{"field":"py","type":"quantitative"},"text":{"field":"label"}}}]}],"spacing":0}
